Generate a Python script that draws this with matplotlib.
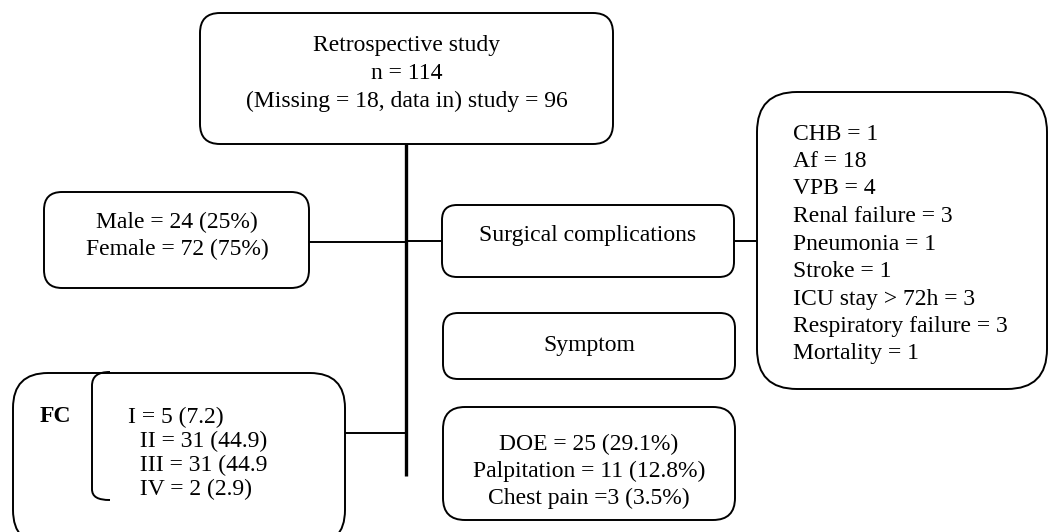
import matplotlib
matplotlib.use("Agg")
import matplotlib.pyplot as plt
from matplotlib.patches import FancyBboxPatch
from matplotlib.path import Path
from matplotlib.patches import PathPatch

plt.rcParams['font.family'] = ['Liberation Serif', 'DejaVu Serif']

top_lines = ["Retrospective study", "n = 114", "(Missing = 18, data in) study = 96"]
sex_lines = ["Male = 24 (25%)", "Female = 72 (75%)"]
surg_title = "Surgical complications"
complications = ["CHB = 1", "Af = 18", "VPB = 4", "Renal failure = 3", "Pneumonia = 1",
                 "Stroke = 1", "ICU stay > 72h = 3", "Respiratory failure = 3", "Mortality = 1"]
symptom_title = "Symptom"
symptoms = ["DOE = 25 (29.1%)", "Palpitation = 11 (12.8%)", "Chest pain =3 (3.5%)"]
fc_label = "FC"
fc_lines = ["I = 5 (7.2)", "  II = 31 (44.9)", "  III = 31 (44.9", "  IV = 2 (2.9)"]

W, H = 1048, 532
fig = plt.figure(figsize=(W / 100, H / 100), dpi=100)
ax = fig.add_axes([0, 0, 1, 1])
ax.set_xlim(0, W)
ax.set_ylim(H, 0)
ax.axis('off')

FS = 17
LW = 1.4
DY = 2  # text vertical nudge

def box(x0, y0, x1, y1, r):
    p = FancyBboxPatch((x0, y0), x1 - x0, y1 - y0,
                       boxstyle=f"round,pad=0,rounding_size={r}",
                       fc='white', ec='black', lw=LW, clip_on=True, zorder=2)
    ax.add_patch(p)

def line(xs, ys, lw=LW):
    ax.plot(xs, ys, color='black', lw=lw, solid_capstyle='butt', zorder=1)

def txt(x, y, s, ha='center', **kw):
    ax.text(x, y + DY, s, ha=ha, va='center', fontsize=FS, zorder=3, **kw)

# connectors
line([406, 406], [144, 476], lw=2.4)
line([309, 406], [242, 242])
line([406, 442], [241, 241])
line([734, 758], [241, 241])
line([345, 406], [433, 433])

# top box
box(200, 13, 613, 144, 20)
for i, t in enumerate(top_lines):
    txt(407, 44 + i * 27.5, t)

# sex box
box(44, 192, 309, 288, 18)
for i, t in enumerate(sex_lines):
    txt(177, 220 + i * 27, t)

# surgical complications box
box(442, 205, 734, 277, 15)
txt(588, 233, surg_title)

# complications list box
box(757, 92, 1047, 389, 40)
for i, t in enumerate(complications):
    txt(793, 132 + i * 27.5, t, ha='left')

# symptom box
box(443, 313, 735, 379, 15)
txt(589, 343, symptom_title)

# symptoms list box
box(443, 407, 735, 520, 22)
for i, t in enumerate(symptoms):
    txt(589, 442 + i * 27, t)

# FC box
box(13, 373, 345, 545, 35)
txt(40, 415, fc_label, ha='left', fontweight='bold')
for i, t in enumerate(fc_lines):
    txt(128, 415 + i * 24.3, t, ha='left')

# bracket
verts = [(110, 372), (98, 372), (92, 376), (92, 386),
         (92, 489), (92, 497), (98, 500), (110, 500)]
codes = [Path.MOVETO, Path.CURVE4, Path.CURVE4, Path.CURVE4,
         Path.LINETO, Path.CURVE4, Path.CURVE4, Path.CURVE4]
ax.add_patch(PathPatch(Path(verts, codes), fc='none', ec='black', lw=LW, zorder=3))

fig.savefig("out.png", dpi=100)
